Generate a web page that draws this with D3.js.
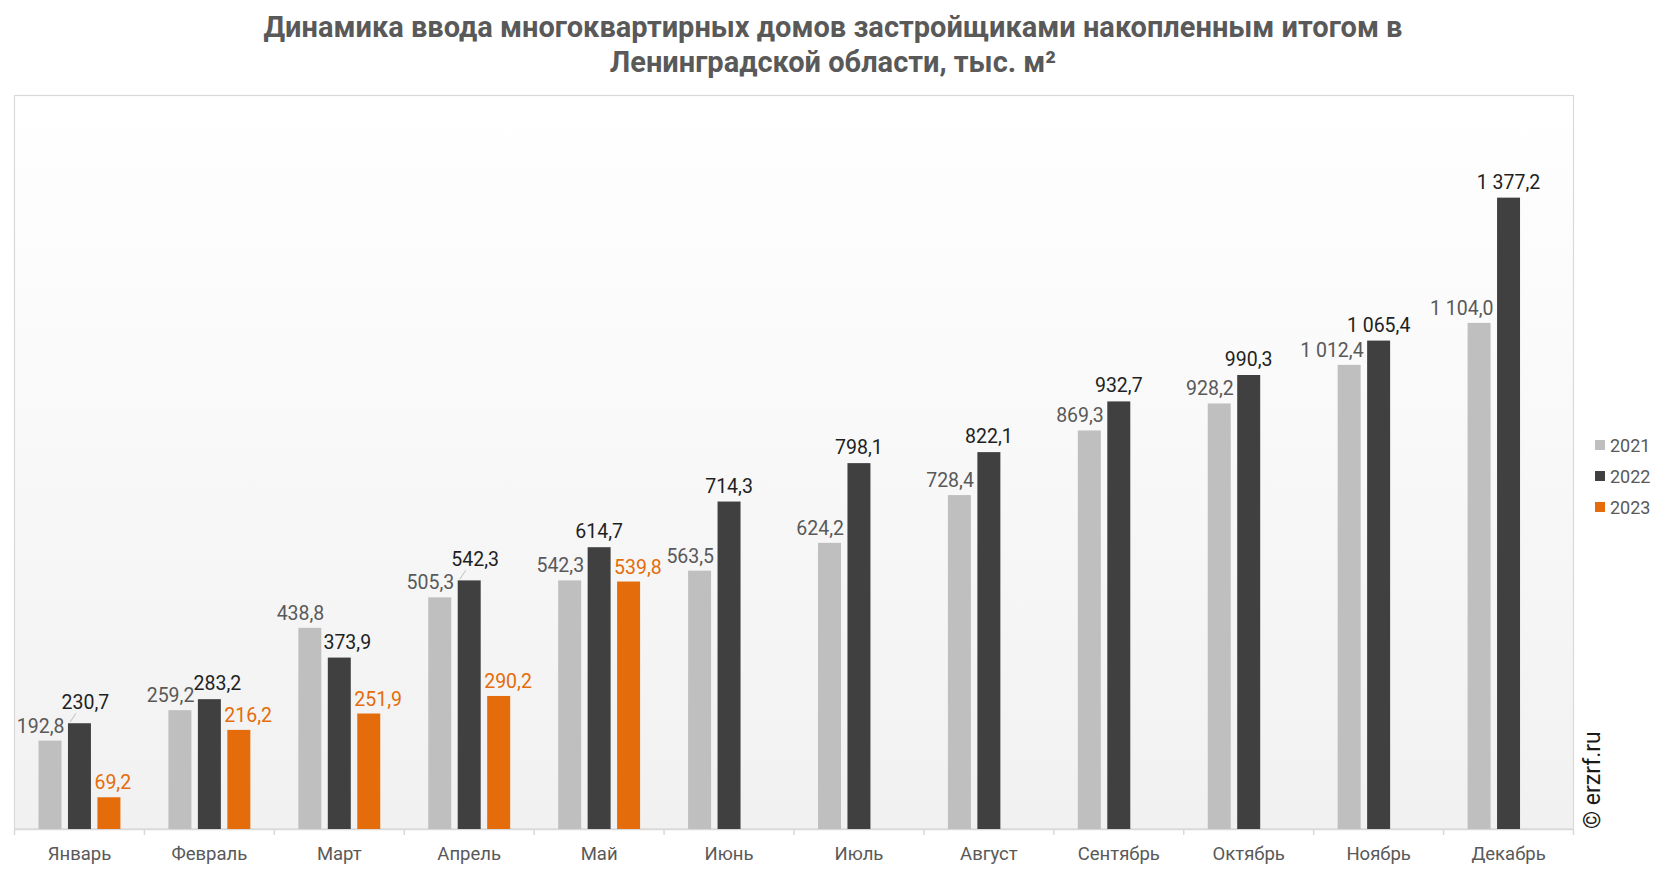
<!DOCTYPE html>
<html>
<head>
<meta charset="utf-8">
<script src="https://cdn.jsdelivr.net/npm/d3@7"></script>
<style>
  html, body { margin:0; padding:0; background:#fff; }
  svg { display:block; font-family: Roboto, "Noto Sans", sans-serif; }
</style>
</head>
<body>
<div id="chart"></div>
<script>
// data
const months = ['Январь','Февраль','Март','Апрель','Май','Июнь','Июль','Август','Сентябрь','Октябрь','Ноябрь','Декабрь'];
const years = ['2021','2022','2023'];
const values2021 = [192.8, 259.2, 438.8, 505.3, 542.3, 563.5, 624.2, 728.4, 869.3, 928.2, 1012.4, 1104.0];
const values2022 = [230.7, 283.2, 373.9, 542.3, 614.7, 714.3, 798.1, 822.1, 932.7, 990.3, 1065.4, 1377.2];
const values2023 = [69.2, 216.2, 251.9, 290.2, 539.8];
const titleLines = ['Динамика ввода многоквартирных домов застройщиками накопленным итогом в', 'Ленинградской области, тыс. м²'];

const colors = {'2021':'#bfbfbf', '2022':'#404040', '2023':'#e46c0a'};
const labelColors = {'2021':'#595959', '2022':'#1f1f1f', '2023':'#e46c0a'};

const W = 1666, H = 872;
const plot = {l:14.5, r:1573.5, t:95.5, b:829};

const locale = d3.formatLocale({decimal:',', thousands:'\u00a0', grouping:[3], currency:['','']});
const fmt = locale.format(',.1f');

const series = {'2021':values2021, '2022':values2022, '2023':values2023};
const rows = [];
years.forEach(y => series[y].forEach((v,i) => rows.push({year:y, month:months[i], i:i, value:v})));

const svg = d3.select('#chart').append('svg')
	.attr('width', W)
	.attr('height', H);

//background gradient
const defs = svg.append('defs');
const grad = defs.append('linearGradient')
	.attr('id','bg')
	.attr('x1',0).attr('y1',0).attr('x2',0).attr('y2',1);
grad.append('stop').attr('offset','0%').attr('stop-color','#ffffff');
grad.append('stop').attr('offset','100%').attr('stop-color','#f1f1f1');

svg.append('rect')
	.attr('x', plot.l).attr('y', plot.t)
	.attr('width', plot.r - plot.l).attr('height', plot.b - plot.t)
	.style('fill','url(#bg)')
	.style('stroke','#d9d9d9')
	.style('stroke-width',1.2);

//title
svg.append('g').selectAll('text')
	.data(titleLines)
	.join('text')
	.attr('x', W/2)
	.attr('y', (d,i) => 37 + i*35)
	.attr('text-anchor','middle')
	.style('font-size','29px')
	.style('font-weight','bold')
	.style('fill','#595959')
	.text(d => d);

//scales
const x = d3.scaleBand()
	.domain(months)
	.range([plot.l, plot.r]);

const xInner = d3.scaleBand()
	.domain(years)
	.range([24, x.bandwidth() - 24])
	.paddingInner(0.22);

const yScale = d3.scaleLinear()
	.domain([0, 1600])
	.range([plot.b, plot.t]);

//axis
const axis = svg.append('g')
	.attr('transform', `translate(0,${plot.b})`)
	.call(d3.axisBottom(x).tickSize(0).tickPadding(18));
axis.select('.domain').style('stroke','#d9d9d9').style('stroke-width',1.5);
axis.selectAll('text')
	.style('font-size','18.5px')
	.style('fill','#595959')
	.style('font-family','Roboto, sans-serif');

//ticks at category boundaries
svg.append('g').selectAll('line')
	.data(d3.range(months.length + 1))
	.join('line')
	.attr('x1', d => plot.l + d*x.step())
	.attr('x2', d => plot.l + d*x.step())
	.attr('y1', plot.b)
	.attr('y2', plot.b + 6)
	.style('stroke','#d9d9d9')
	.style('stroke-width',1.5);

//bars
const barX = d => x(d.month) + xInner(d.year);

svg.append('g').selectAll('rect')
	.data(rows)
	.join('rect')
	.attr('x', barX)
	.attr('y', d => yScale(d.value))
	.attr('width', xInner.bandwidth())
	.attr('height', d => plot.b - yScale(d.value))
	.style('fill', d => colors[d.year]);

//labels
function labelPos(d){
	const bx = barX(d), bw = xInner.bandwidth();
	const top = yScale(d.value);
	if(d.year === '2021') return {x: bx + bw + 3, y: top - 8, anchor:'end'};
	if(d.year === '2023') return {x: bx - 3, y: top - 8, anchor:'start'};
	//2022: move aside if it would collide with the 2021 label
	const dy = top - yScale(values2021[d.i]);
	if(dy > -20 && dy < -14) return {x: bx + bw/2 + 6, y: top - 14, anchor:'middle', leader:true};
	if(dy > -20) return {x: bx + bw/2 + 8, y: top - 9, anchor:'middle'};
	return {x: bx + bw/2, y: top - 9, anchor:'middle'};
}

const labels = svg.append('g');
rows.forEach(d => {
	const p = labelPos(d);
	if(p.leader){
		labels.append('line')
			.attr('x1', barX(d) + 2).attr('y1', yScale(d.value) - 1)
			.attr('x2', barX(d) + 8).attr('y2', p.y + 4)
			.style('stroke','#bfbfbf')
			.style('stroke-width',1);
	}
	labels.append('text')
		.attr('x', p.x)
		.attr('y', p.y)
		.attr('text-anchor', p.anchor)
		.style('font-size','19.5px')
		.style('fill', labelColors[d.year])
		.text(fmt(d.value));
});

//legend
const legend = svg.append('g')
	.attr('transform','translate(1595,445)');
const li = legend.selectAll('g')
	.data(years)
	.join('g')
	.attr('transform',(d,i) => `translate(0,${i*31})`);
li.append('rect')
	.attr('x',0).attr('y',-5)
	.attr('width',10).attr('height',10)
	.style('fill', d => colors[d]);
li.append('text')
	.attr('x',15).attr('y',6.5)
	.style('font-size','18px')
	.style('fill','#595959')
	.text(d => d);

//watermark
svg.append('text')
	.attr('transform','translate(1600,829) rotate(-90)')
	.style('font-size','23px')
	.style('fill','#1a1a1a')
	.text('© erzrf.ru');
</script>
</body>
</html>
